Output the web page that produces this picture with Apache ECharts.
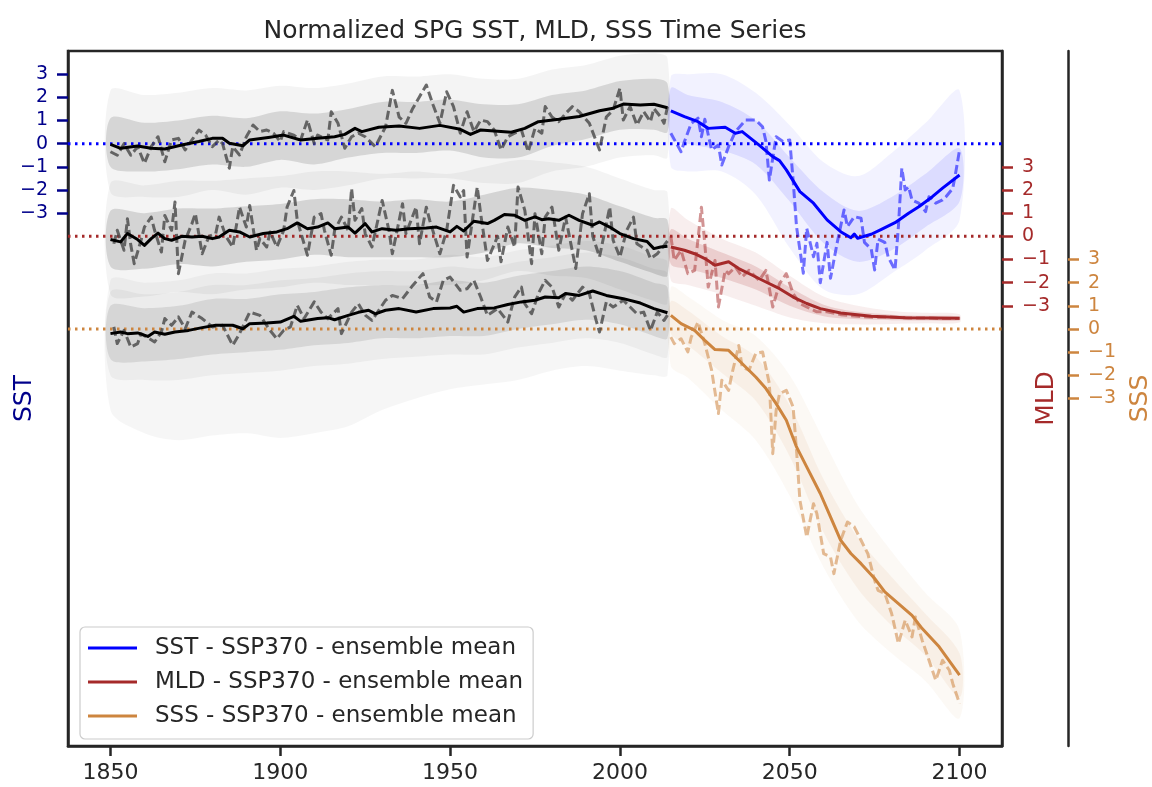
<!DOCTYPE html>
<html><head><meta charset="utf-8">
<script src="https://cdn.jsdelivr.net/npm/echarts@6/dist/echarts.min.js"></script>
<style>html,body{margin:0;padding:0;background:#fff}#c{width:1152px;height:787px}</style>
</head><body><div id="c"></div>
<script>
// ---------- tick labels ----------
const xTicks = [1850, 1900, 1950, 2000, 2050, 2100];
const yTicks = [-3, -2, -1, 0, 1, 2, 3];

// ---------- historical (1850-2014) ----------
const sstHistMean = [[1850,-0.03],[1853,-0.2],[1858,-0.1],[1862,-0.2],[1866,-0.23],[1871,-0.06],[1876,0.09],[1880,0.23],[1883,0.23],[1885,0.02],[1889,-0.09],[1891,0.16],[1897,0.28],[1901,0.37],[1906,0.16],[1911,0.23],[1916,0.3],[1919,0.4],[1922,0.66],[1924,0.52],[1929,0.71],[1935,0.76],[1941,0.66],[1947,0.79],[1953,0.62],[1956,0.4],[1959,0.59],[1965,0.52],[1968,0.49],[1972,0.66],[1976,0.95],[1982,1.05],[1988,1.17],[1994,1.42],[1998,1.53],[2001,1.71],[2006,1.67],[2010,1.7],[2014,1.55]];
const sstHistDash = [[1850,-0.35],[1852,-0.5],[1854,0],[1856,-0.5],[1858,-0.13],[1860,-0.85],[1862,-0.13],[1864,0.3],[1866,-0.78],[1868,0.16],[1870,0.23],[1872,-0.27],[1874,0.16],[1876,0.59],[1878,0.37],[1880,-0.13],[1882,0.16],[1883,0],[1885,-1.06],[1886,-0.13],[1888,-0.49],[1890,0.3],[1892,0.8],[1894,0.52],[1896,0.59],[1898,0.45],[1900,0.09],[1901,0.52],[1904,0.37],[1906,0.16],[1908,1.02],[1910,0],[1911,0.37],[1914,0.16],[1915,1.38],[1917,0.88],[1919,-0.2],[1921,0.3],[1923,0.45],[1925,0.3],[1928,-0.13],[1931,0.73],[1933,2.3],[1935,1.15],[1937,0.88],[1939,1.52],[1941,2.03],[1943,2.53],[1945,1.67],[1947,0.88],[1949,2.24],[1951,1.6],[1953,0.45],[1955,1.38],[1957,0.52],[1959,1.02],[1961,0.95],[1963,0.59],[1965,-0.27],[1967,0.3],[1969,0.45],[1971,0.59],[1973,-0.35],[1975,0.66],[1977,0.45],[1978,1.6],[1980,1.15],[1982,0.95],[1984,1.3],[1986,1.6],[1988,1.38],[1991,0.88],[1994,-0.27],[1996,1.15],[1998,1.45],[2000,2.39],[2001,1.02],[2003,1.6],[2005,0.81],[2007,1.38],[2009,0.95],[2010,1.52],[2012,1.15],[2013,0.88],[2014,1.6]];
const mldHistMean = [[1850,-0.14],[1853,-0.24],[1855,0.12],[1858,-0.14],[1860,-0.39],[1862,-0.1],[1864,0.14],[1866,-0.1],[1868,-0.17],[1871,0],[1874,-0.03],[1877,0],[1880,-0.1],[1882,-0.03],[1885,0.26],[1888,0.19],[1891,-0.03],[1895,0.12],[1899,0.19],[1902,0.33],[1905,0.58],[1908,0.33],[1911,0.4],[1914,0.58],[1916,0.33],[1920,0.4],[1922,0.14],[1925,0.55],[1927,0.19],[1930,0.33],[1934,0.26],[1938,0.33],[1943,0.36],[1946,0.4],[1950,0.19],[1952,0.43],[1954,0.23],[1957,0.65],[1961,0.55],[1963,0.69],[1966,0.94],[1969,0.91],[1972,0.69],[1975,0.84],[1977,0.72],[1979,0.76],[1982,0.69],[1985,0.91],[1988,0.69],[1992,0.48],[1994,0.62],[1997,0.4],[2000,0.12],[2004,-0.1],[2008,-0.22],[2010,-0.53],[2012,-0.46],[2014,-0.43]];
const mldHistDash = [[1851,-0.32],[1852,0.26],[1854,-0.6],[1855,0.76],[1856,-0.39],[1857,-1.18],[1859,-0.17],[1860,0.4],[1862,0.83],[1863,0.26],[1865,-0.68],[1866,0.9],[1868,0.26],[1869,1.48],[1870,-1.61],[1872,-0.17],[1874,0.55],[1875,0.98],[1877,-0.75],[1879,0],[1881,0.12],[1882,0.83],[1884,0],[1886,-0.46],[1888,1.26],[1890,0.4],[1891,1.33],[1893,-0.6],[1894,-0.1],[1896,-0.46],[1897,0.19],[1899,-0.46],[1901,0.26],[1902,1.26],[1904,1.98],[1905,0.69],[1908,-0.82],[1910,0.83],[1912,0.98],[1913,0.26],[1915,-0.82],[1916,0.26],[1918,0.83],[1920,0.26],[1921,2.06],[1922,0.69],[1924,1.2],[1925,0.12],[1927,-0.46],[1930,1.55],[1932,0.26],[1933,-0.75],[1936,1.41],[1937,0.12],[1940,1.26],[1941,-0.32],[1943,1.26],[1944,0.69],[1947,-0.75],[1949,0.26],[1951,2.2],[1953,1.7],[1954,1.98],[1955,-0.89],[1958,2.13],[1959,0.98],[1961,-1.04],[1964,0],[1965,-1.1],[1967,0.4],[1969,-0.46],[1970,2.13],[1972,1.12],[1974,-1.18],[1975,0.98],[1977,-0.75],[1978,0.83],[1980,1.26],[1982,-0.6],[1984,0.83],[1987,-1.39],[1989,0.98],[1991,1.84],[1992,0],[1994,-0.89],[1997,1.26],[1998,-0.17],[2000,-0.89],[2002,0.26],[2004,0.83],[2005,-0.32],[2008,-0.6],[2009,-0.96],[2011,-0.75],[2013,-0.39],[2014,-0.2]];
const sssHistMean = [[1850,-0.2],[1853,-0.13],[1855,-0.2],[1858,-0.17],[1861,-0.32],[1863,-0.13],[1866,-0.23],[1869,-0.13],[1873,-0.06],[1877,0.06],[1881,0.16],[1886,0.16],[1889,0.01],[1891,0.23],[1896,0.26],[1900,0.3],[1904,0.55],[1906,0.33],[1911,0.45],[1914,0.49],[1916,0.4],[1920,0.59],[1923,0.72],[1926,0.81],[1928,0.65],[1931,0.81],[1935,0.88],[1940,0.73],[1945,0.88],[1950,0.91],[1952,0.98],[1954,0.73],[1958,0.88],[1963,0.91],[1967,1.06],[1971,1.17],[1975,1.24],[1978,1.38],[1982,1.35],[1984,1.53],[1988,1.45],[1992,1.64],[1996,1.45],[2001,1.31],[2006,1.12],[2010,0.88],[2014,0.7]];
const sssHistDash = [[1851,0.09],[1852,-0.63],[1854,-0.06],[1856,-0.78],[1858,-0.63],[1859,-0.2],[1863,-0.56],[1865,-0.13],[1866,0.45],[1868,0.16],[1870,0.52],[1872,0.01],[1874,0.73],[1877,0.45],[1880,0.09],[1883,0.16],[1886,-0.7],[1888,-0.2],[1891,0.73],[1894,0.59],[1897,-0.06],[1899,-0.42],[1901,-0.06],[1903,0.09],[1905,1.02],[1907,0.45],[1910,1.17],[1912,0.73],[1914,0.45],[1917,0.88],[1918,-0.2],[1921,0.73],[1923,1.09],[1925,0.6],[1927,0.37],[1931,1.24],[1933,1.45],[1936,1.31],[1939,1.88],[1942,2.39],[1944,1.38],[1946,1.17],[1948,2.1],[1950,2.24],[1953,1.67],[1955,1.74],[1957,2.1],[1959,1.38],[1961,0.59],[1964,0.88],[1967,0.3],[1969,1.38],[1971,1.81],[1972,1.09],[1974,0.66],[1976,1.53],[1978,2.1],[1980,1.81],[1982,0.95],[1984,1.53],[1986,1.24],[1989,1.81],[1991,1.53],[1993,0.37],[1994,-0.13],[1996,1.17],[1998,0.95],[2001,1.24],[2003,0.95],[2005,0.66],[2007,0.73],[2009,-0.06],[2011,0.73],[2013,0.37],[2014,0.6]];

// ensemble spread envelopes: [year, low, high]
const sstHistOuter = [[1850,-2.1,2.3],[1860,-2.3,2.1],[1870,-2.3,2.2],[1880,-2.0,2.4],[1890,-2.2,2.3],[1900,-1.9,2.5],[1910,-2.0,2.4],[1920,-1.8,2.6],[1930,-1.5,2.9],[1940,-1.5,2.9],[1950,-1.5,3.0],[1960,-1.7,2.8],[1970,-1.7,2.8],[1980,-1.2,3.2],[1990,-1.0,3.4],[2000,-0.6,3.8],[2010,-0.5,3.9],[2014,-0.6,3.7]];
const sstHistInner = [[1850,-1.0,1.1],[1860,-1.2,0.9],[1870,-1.1,1.0],[1880,-0.9,1.2],[1890,-1.0,1.1],[1900,-0.7,1.4],[1910,-0.9,1.3],[1920,-0.6,1.5],[1930,-0.4,1.8],[1940,-0.4,1.8],[1950,-0.3,1.9],[1960,-0.6,1.7],[1970,-0.6,1.7],[1980,-0.1,2.1],[1990,0.2,2.3],[2000,0.6,2.7],[2010,0.6,2.8],[2014,0.5,2.6]];
const mldHistOuter = [[1850,-2.5,2.3],[1860,-2.6,2.2],[1870,-2.4,2.4],[1880,-2.5,2.4],[1890,-2.3,2.5],[1900,-2.2,2.6],[1910,-2.0,2.8],[1920,-2.1,2.8],[1930,-2.1,2.7],[1940,-2.1,2.8],[1950,-2.1,2.7],[1960,-1.9,3.0],[1970,-1.5,3.3],[1980,-1.7,3.2],[1990,-1.8,3.0],[2000,-2.3,2.5],[2010,-2.8,2.0],[2014,-2.9,1.9]];
const mldHistInner = [[1850,-1.3,1.1],[1860,-1.4,1.0],[1870,-1.2,1.2],[1880,-1.3,1.2],[1890,-1.1,1.3],[1900,-1.0,1.4],[1910,-0.8,1.6],[1920,-0.9,1.6],[1930,-0.9,1.5],[1940,-0.9,1.6],[1950,-0.9,1.5],[1960,-0.7,1.8],[1970,-0.3,2.1],[1980,-0.5,2.0],[1990,-0.6,1.8],[2000,-1.1,1.3],[2010,-1.6,0.8],[2014,-1.7,0.7]];
const sssHistOuter = [[1850,-3.5,2.1],[1860,-4.5,2.0],[1870,-4.8,2.1],[1880,-4.6,2.4],[1890,-4.5,2.4],[1900,-4.7,2.6],[1910,-4.5,2.7],[1920,-4.2,2.9],[1930,-3.5,3.0],[1940,-3.0,3.0],[1950,-2.6,3.2],[1960,-2.4,3.1],[1970,-2.2,3.4],[1980,-1.8,3.6],[1990,-1.6,3.8],[2000,-1.8,3.6],[2010,-2.0,3.1],[2014,-2.0,2.9]];
const sssHistMid = [[1850,-2.0,1.6],[1860,-2.2,1.5],[1870,-2.2,1.6],[1880,-2.0,1.9],[1890,-1.9,1.9],[1900,-1.8,2.1],[1910,-1.6,2.2],[1920,-1.5,2.4],[1930,-1.3,2.5],[1940,-1.2,2.5],[1950,-1.1,2.7],[1960,-1.1,2.6],[1970,-0.8,2.9],[1980,-0.6,3.1],[1990,-0.4,3.3],[2000,-0.6,3.1],[2010,-1.1,2.6],[2014,-1.2,2.4]];
const sssHistInner = [[1850,-1.3,1.0],[1860,-1.4,0.9],[1870,-1.3,1.0],[1880,-1.1,1.3],[1890,-1.0,1.3],[1900,-0.9,1.5],[1910,-0.7,1.6],[1920,-0.6,1.8],[1930,-0.4,1.9],[1940,-0.4,1.9],[1950,-0.3,2.1],[1960,-0.3,2.0],[1970,0.0,2.3],[1980,0.2,2.5],[1990,0.4,2.7],[2000,0.2,2.5],[2010,-0.3,2.0],[2014,-0.4,1.8]];

// ---------- SSP370 (2015-2100) ----------
const sstFutMean = [[2015,1.42],[2019,1.17],[2023,0.95],[2026,0.66],[2031,0.71],[2034,0.45],[2036,0.52],[2041,-0.06],[2045,-0.56],[2047,-0.73],[2049,-1.13],[2053,-2.07],[2057,-2.57],[2061,-3.29],[2065,-3.8],[2068,-4.06],[2069,-3.9],[2070,-4.08],[2074,-3.91],[2077,-3.7],[2081,-3.41],[2085,-3.0],[2088,-2.72],[2092,-2.29],[2095,-1.92],[2100,-1.35]];
const sstFutDash = [[2015,0.45],[2018,-0.35],[2019,0.09],[2021,0.88],[2023,1.1],[2024,0.3],[2025,1.05],[2027,-0.27],[2029,-0.06],[2030,-0.92],[2032,-0.13],[2034,0.52],[2037,1.02],[2040,1.02],[2042,0.73],[2043,0.1],[2044,-1.57],[2046,0.3],[2048,0.09],[2050,0.16],[2051,-1.57],[2052,-3.58],[2054,-5.59],[2055,-3.65],[2057,-4.88],[2058,-4.3],[2059,-6.0],[2061,-4.26],[2062,-5.81],[2064,-4.26],[2066,-2.86],[2067,-3.58],[2069,-3.15],[2071,-3.22],[2072,-4.26],[2074,-4.55],[2075,-5.45],[2076,-4.12],[2078,-4.26],[2079,-4.9],[2081,-5.45],[2082,-3.58],[2083,-1.06],[2084,-2.0],[2085,-1.86],[2086,-2.43],[2088,-2.57],[2090,-2.93],[2091,-2.29],[2093,-2.57],[2095,-2.43],[2096,-2.29],[2098,-1.93],[2099,-1.14],[2100,-0.27]];
const mldFutMean = [[2015,-0.46],[2019,-0.6],[2022,-0.75],[2025,-0.96],[2028,-1.25],[2032,-1.1],[2035,-1.39],[2039,-1.68],[2043,-1.97],[2047,-2.26],[2051,-2.62],[2055,-2.9],[2059,-3.12],[2065,-3.31],[2074,-3.45],[2084,-3.51],[2100,-3.54]];
const mldFutDash = [[2015,0],[2016,-1.04],[2018,-0.6],[2020,-1.61],[2022,-1.47],[2024,1.26],[2025,-0.32],[2026,-2.19],[2028,-1.04],[2029,-3.05],[2031,-1.47],[2032,-1.61],[2034,-1.32],[2036,-1.75],[2038,-1.47],[2041,-1.9],[2043,-1.47],[2045,-3.05],[2047,-2.04],[2049,-1.61],[2051,-2.47],[2053,-2.9],[2055,-3.05],[2058,-3.26],[2061,-3.26],[2065,-3.38],[2070,-3.45],[2075,-3.5],[2080,-3.48],[2085,-3.53],[2090,-3.52],[2095,-3.55],[2100,-3.55]];
const sssFutMean = [[2015,0.59],[2018,0.23],[2022,-0.06],[2025,-0.49],[2028,-0.89],[2032,-0.92],[2035,-1.35],[2040,-2.07],[2043,-2.57],[2046,-3.22],[2049,-3.94],[2052,-5.09],[2055,-5.95],[2059,-7.1],[2062,-8.11],[2065,-9.12],[2068,-9.69],[2071,-10.13],[2075,-10.77],[2078,-11.35],[2082,-11.85],[2086,-12.36],[2089,-12.93],[2094,-13.72],[2100,-14.94]];
const sssFutDash = [[2015,-0.35],[2016,-0.63],[2018,-0.42],[2020,-0.99],[2021,-0.35],[2023,0.3],[2025,-0.63],[2027,-1.78],[2029,-3.65],[2030,-2.21],[2032,-2.65],[2033,-1.93],[2035,-0.71],[2036,-1.64],[2038,-1.78],[2040,-1.06],[2042,-0.99],[2044,-2.36],[2045,-5.38],[2046,-3.51],[2047,-2.79],[2049,-2.65],[2051,-3.37],[2052,-5.24],[2053,-7.39],[2055,-8.98],[2057,-7.54],[2058,-7.97],[2060,-9.7],[2062,-9.84],[2063,-10.56],[2065,-9.12],[2067,-8.33],[2069,-8.54],[2071,-9.12],[2073,-9.7],[2075,-10.85],[2076,-11.28],[2078,-11.42],[2080,-12.28],[2082,-13.58],[2084,-12.57],[2086,-13.29],[2087,-12.43],[2089,-13.44],[2091,-14.3],[2093,-15.16],[2095,-14.3],[2097,-14.73],[2098,-15.3],[2100,-16.17]];

const sstFutOuter = [[2015,-1.0,2.9],[2020,-1.2,3.0],[2030,-1.2,3.0],[2040,-2.2,2.2],[2050,-4.5,0.8],[2060,-6.3,-0.8],[2070,-6.5,-1.4],[2080,-5.6,-0.4],[2090,-4.6,0.9],[2100,-3.3,2.3]];
const sstFutInner = [[2015,0.2,2.4],[2020,0.0,2.1],[2030,-0.3,1.8],[2040,-0.9,1.0],[2050,-2.5,-0.6],[2060,-4.3,-2.1],[2070,-5.1,-2.9],[2080,-4.6,-2.3],[2090,-3.6,-1.3],[2100,-2.5,-0.2]];
const mldFutOuter = [[2015,-1.9,1.2],[2020,-2.1,0.7],[2030,-2.5,-0.1],[2040,-3.0,-0.7],[2050,-3.5,-1.7],[2060,-3.75,-2.6],[2070,-3.8,-3.0],[2080,-3.78,-3.22],[2090,-3.75,-3.3],[2100,-3.72,-3.36]];
const mldFutInner = [[2015,-1.2,0.3],[2020,-1.4,-0.1],[2030,-1.8,-0.7],[2040,-2.3,-1.3],[2050,-3.0,-2.2],[2060,-3.45,-2.95],[2070,-3.58,-3.26],[2080,-3.62,-3.38],[2090,-3.63,-3.43],[2100,-3.63,-3.45]];
const sssFutOuter = [[2015,-1.6,1.8],[2020,-2.1,1.4],[2030,-3.5,0.4],[2040,-4.8,-0.3],[2050,-7.2,-2.0],[2060,-10.3,-4.8],[2070,-12.6,-7.6],[2080,-14.0,-9.6],[2090,-15.2,-11.4],[2100,-16.8,-13.0]];
const sssFutInner = [[2015,-0.2,1.2],[2020,-0.7,0.8],[2030,-1.9,-0.3],[2040,-3.1,-1.2],[2050,-5.5,-3.3],[2060,-8.8,-6.5],[2070,-11.2,-9.0],[2080,-12.8,-10.7],[2090,-14.1,-12.3],[2100,-15.9,-14.0]];

const zeroLine = [[1837.5, 0], [2112.5, 0]];

// ---------- styling ----------
const FONT = 'DejaVu Sans';
const INK = '#262626';
const C_SST = '#0000ff', C_MLD = '#a52a2a', C_SSS = '#cd853f';
const L_SST = '#00008b';
const fmt = v => (v < 0 ? '\u2212' + (-v) : String(v));

function band(band, yIdx, color, z) {
  return {
    type: 'custom', yAxisIndex: yIdx, z: z, silent: true, animation: false,
    data: [[band[0][0], band[0][1]]],
    renderItem: function (params, api) {
      const top = band.map(d => api.coord([d[0], d[2]]));
      const bot = band.map(d => api.coord([d[0], d[1]])).reverse();
      return { type: 'polygon', shape: { points: top.concat(bot), smooth: 0.3 }, style: { fill: color } };
    }
  };
}
function line(name, data, yIdx, color, width, type, z) {
  return {
    name: name, type: 'line', yAxisIndex: yIdx, data: data, z: z,
    symbol: 'none', showSymbol: false, silent: true, animation: false,
    lineStyle: { color: color, width: width, type: type, cap: 'butt', join: 'round' },
    itemStyle: { color: color }
  };
}
function yAxis(name, min, max, pos, offset, color, nameGap) {
  return {
    type: 'value', min: min, max: max, position: pos, offset: offset,
    name: name, nameLocation: 'middle', nameRotate: 90, nameGap: nameGap, nameMoveOverlap: false,
    nameTextStyle: { color: color, fontSize: 25, fontFamily: FONT },
    axisLine: { show: true, onZero: false, lineStyle: { color: INK, width: 2.5 } },
    axisTick: { show: true, customValues: yTicks, length: 11, lineStyle: { color: color, width: 2.5 } },
    axisLabel: { show: true, customValues: yTicks, color: color, fontSize: 19, fontFamily: FONT, margin: 20, formatter: fmt },
    splitLine: { show: false }
  };
}

const N_SST = 'SST - SSP370 - ensemble mean';
const N_MLD = 'MLD - SSP370 - ensemble mean';
const N_SSS = 'SSS - SSP370 - ensemble mean';

const chart = echarts.init(document.getElementById('c'), null, { renderer: 'canvas' });
chart.setOption({
  animation: false,
  backgroundColor: '#ffffff',
  textStyle: { fontFamily: FONT },
  grid: { left: 68, right: 150, top: 51, bottom: 41, containLabel: false, outerBoundsMode: 'none',
          show: true, borderColor: INK, borderWidth: 2.5, backgroundColor: 'transparent' },
  graphic: [{
    type: 'text', x: 535, y: 31, silent: true,
    style: { text: 'Normalized SPG SST, MLD, SSS Time Series', fill: INK, font: '25px "DejaVu Sans"', textAlign: 'center', textVerticalAlign: 'middle' }
  }],
  legend: {
    orient: 'vertical', left: 80, top: 627,
    data: [{ name: N_SST, icon: 'rect' }, { name: N_MLD, icon: 'rect' }, { name: N_SSS, icon: 'rect' }],
    itemWidth: 49, itemHeight: 3, itemGap: 8,
    padding: [8, 10, 10, 8], borderColor: '#cccccc', borderWidth: 1.2, borderRadius: 5,
    backgroundColor: 'rgba(255,255,255,0.8)',
    textStyle: { color: INK, fontSize: 23, fontFamily: FONT, padding: [0, 0, 0, 13], lineHeight: 26 },
    selectedMode: false
  },
  xAxis: {
    type: 'value', min: 1837.5, max: 2112.5,
    axisLine: { show: true, onZero: false, lineStyle: { color: INK, width: 2.5 } },
    axisTick: { show: true, customValues: xTicks, length: 10, lineStyle: { color: INK, width: 2.5 } },
    axisLabel: { customValues: xTicks, color: INK, fontSize: 22, fontFamily: FONT, margin: 16, formatter: v => String(v) },
    splitLine: { show: false }
  },
  yAxis: [
    yAxis('SST', -26, 4, 'left', 0, L_SST, 31),
    yAxis('MLD', -22, 8, 'right', 0, C_MLD, 32),
    yAxis('SSS', -18, 12, 'right', 66, C_SSS, 60)
  ],
  series: [
    band(sstHistOuter, 0, 'rgba(0,0,0,0.045)', 1),
    band(mldHistOuter, 1, 'rgba(0,0,0,0.045)', 1),
    band(sssHistOuter, 2, 'rgba(0,0,0,0.035)', 1),
    band(sssHistMid, 2, 'rgba(0,0,0,0.04)', 1),
    band(sstHistInner, 0, 'rgba(0,0,0,0.12)', 1),
    band(mldHistInner, 1, 'rgba(0,0,0,0.13)', 1),
    band(sssHistInner, 2, 'rgba(0,0,0,0.09)', 1),
    band(sstFutOuter, 0, 'rgba(0,0,255,0.05)', 1),
    band(sstFutInner, 0, 'rgba(0,0,255,0.09)', 1),
    band(mldFutOuter, 1, 'rgba(165,42,42,0.08)', 1),
    band(mldFutInner, 1, 'rgba(165,42,42,0.16)', 1),
    band(sssFutOuter, 2, 'rgba(205,133,63,0.05)', 1),
    band(sssFutInner, 2, 'rgba(205,133,63,0.08)', 1),
    line('sst0', zeroLine, 0, C_SST, 3, [2.5, 4.5], 2),
    line('mld0', zeroLine, 1, C_MLD, 3, [2.5, 4.5], 2),
    line('sss0', zeroLine, 2, C_SSS, 3, [2.5, 4.5], 2),
    line('sstHistDash', sstHistDash, 0, 'rgba(70,70,70,0.8)', 3, [9, 4], 3),
    line('mldHistDash', mldHistDash, 1, 'rgba(70,70,70,0.8)', 3, [9, 4], 3),
    line('sssHistDash', sssHistDash, 2, 'rgba(70,70,70,0.8)', 3, [9, 4], 3),
    line('sstFutDash', sstFutDash, 0, 'rgba(0,0,255,0.55)', 3, [9, 4], 3),
    line('mldFutDash', mldFutDash, 1, 'rgba(165,42,42,0.5)', 3, [9, 4], 3),
    line('sssFutDash', sssFutDash, 2, 'rgba(205,133,63,0.55)', 3, [9, 4], 3),
    line('sstHistMean', sstHistMean, 0, '#000000', 3, 'solid', 4),
    line('mldHistMean', mldHistMean, 1, '#000000', 3, 'solid', 4),
    line('sssHistMean', sssHistMean, 2, '#000000', 3, 'solid', 4),
    line(N_SST, sstFutMean, 0, C_SST, 3, 'solid', 4),
    line(N_MLD, mldFutMean, 1, C_MLD, 3, 'solid', 4),
    line(N_SSS, sssFutMean, 2, C_SSS, 3, 'solid', 4)
  ]
});
</script></body></html>
